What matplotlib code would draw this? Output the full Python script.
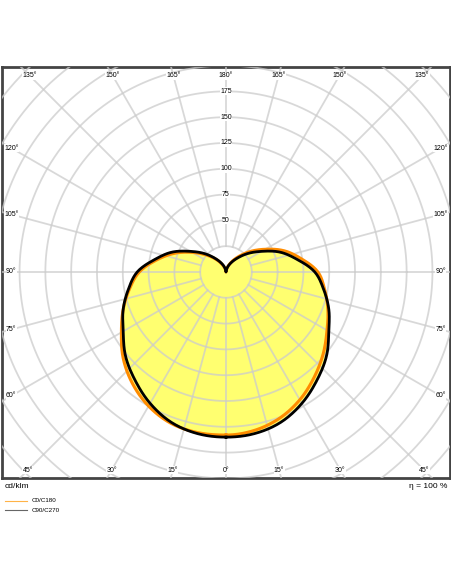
import numpy as np
import matplotlib.pyplot as plt

# luminous intensity (cd/klm) vs gamma (deg from nadir)
gamma = [0, 10, 20, 30, 40, 50, 60, 70, 80, 90, 100, 110, 120, 130, 140, 150, 160, 170, 180]
c90_c270 = [160, 159, 155, 147, 137, 127, 115, 106, 96, 86, 70, 56, 40, 28, 18, 11, 6, 2, 0]
c0 = [158, 156, 151, 143, 133, 123, 113, 105, 97, 89, 74, 60, 44, 31, 20, 12, 6, 2, 0]
c180 = [158, 158, 156, 150, 141, 130, 117, 106, 95, 84, 68, 53, 38, 26, 17, 10, 5, 2, 0]
radial_ticks = [50, 75, 100, 125, 150, 175]
angle_ticks = [0, 15, 30, 45, 60, 75, 90, 105, 120, 135, 150, 165, 180]

W, H = 452, 584
fig = plt.figure(figsize=(W / 100, H / 100), dpi=100)
ax = fig.add_axes([2 / W, (H - 478) / H, 448 / W, 411 / H])
XL, YB, YT = 217, -199.6, 198.6
ax.set_xlim(-XL, XL)
ax.set_ylim(YB, YT)
ax.set_xticks([])
ax.set_yticks([])
for s in ax.spines.values():
    s.set_color("#444444")
    s.set_linewidth(2)

grid = "#cccccc"
t = np.linspace(0, 2 * np.pi, 400)
for r in range(25, 325, 25):
    ax.plot(r * np.cos(t), r * np.sin(t), color=grid, lw=1.3, zorder=3)
for a in range(0, 360, 15):
    g = np.radians(a)
    ax.plot([25 * np.sin(g), 400 * np.sin(g)], [-25 * np.cos(g), -400 * np.cos(g)],
            color=grid, lw=1.3, zorder=3)


def smooth(vals, n=12):
    # Catmull-Rom through the measured points (for drawing only)
    p = np.array(vals, float)
    g = np.array(gamma, float)
    P = np.r_[p[1], p, p[-2]]
    G = np.r_[-g[1], g, 2 * g[-1] - g[-2]]
    rs, gs = [], []
    u = np.linspace(0, 1, n, endpoint=False)
    for i in range(1, len(P) - 2):
        for arr, out in ((P, rs), (G, gs)):
            p0, p1, p2, p3 = arr[i - 1:i + 3]
            out.extend(0.5 * (2 * p1 + (-p0 + p2) * u + (2 * p0 - 5 * p1 + 4 * p2 - p3) * u ** 2
                              + (-p0 + 3 * p1 - 3 * p2 + p3) * u ** 3))
    rs.append(p[-1])
    gs.append(g[-1])
    return np.array(gs), np.clip(rs, 0, None)


def xy(vals, side):
    g, v = smooth(vals)
    g = np.radians(g)
    return side * v * np.sin(g), -v * np.cos(g)


def closed(left, right):
    lx, ly = xy(left, -1)
    rx, ry = xy(right, 1)
    return np.r_[lx, rx[::-1]], np.r_[ly, ry[::-1]]


ox, oy = closed(c180, c0)
bx, by = closed(c90_c270, c90_c270)
ax.fill(ox, oy, color="#ffff70", lw=0, zorder=2)
ax.fill(bx, by, color="#ffff70", lw=0, zorder=2)
ax.plot(ox, oy, color="#ff8c00", lw=2.2, zorder=4)
ax.plot(bx, by, color="black", lw=2, zorder=5)
for ln in ax.lines[:-2]:
    ln.set_alpha(0.75)

fs = 5
fam = "Liberation Sans"
for r in radial_ticks:
    ax.text(0, r, str(r), ha="center", va="center", fontsize=fs, family=fam, zorder=6,
            bbox=dict(facecolor="white", edgecolor="none", pad=0.3))

# angle labels placed where the spokes meet an inner frame
top, bot, side = 190, -192, 208
for a in angle_ticks:
    for sgn in (-1, 1):
        if a in (0, 180) and sgn == 1:
            continue
        g = np.radians(a)
        dx, dy = np.sin(g) * sgn, -np.cos(g)
        if a < 50:
            k = bot / dy
        elif a > 130:
            k = top / dy
        else:
            k = side / abs(dx)
        x, y = dx * k, dy * k
        if 50 < a < 130:
            x = side * sgn
        ax.text(x, y, f"{a}°", ha="center", va="center", fontsize=fs, family=fam, zorder=6,
                bbox=dict(facecolor="white", edgecolor="none", pad=0.2))

fig.text(5 / W, 1 - 487 / H, "cd/klm", fontsize=6, family=fam, va="center")
fig.text(447 / W, 1 - 487 / H, "η = 100 %", fontsize=6, family=fam, va="center", ha="right")
for yy, col, lab in [(501, "#ffb347", "C0/C180"), (510, "#666666", "C90/C270")]:
    fig.add_artist(plt.Line2D([5 / W, 27 / W], [1 - yy / H] * 2, color=col, lw=0.8))
    fig.text(32 / W, 1 - yy / H, lab, fontsize=4.5, family=fam, va="center")

fig.savefig("out.png", dpi=100)
